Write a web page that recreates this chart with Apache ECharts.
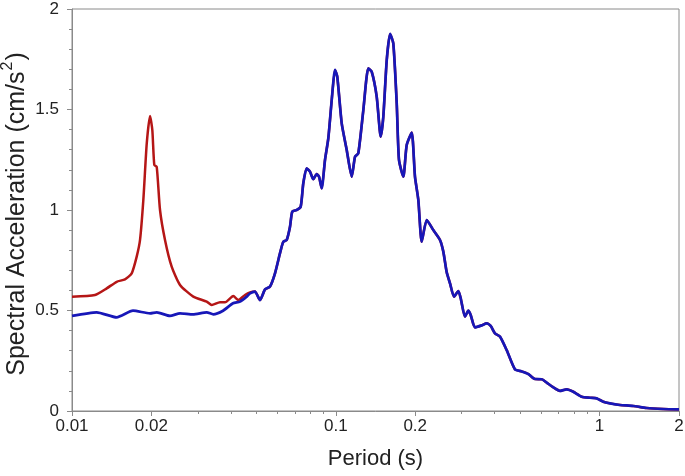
<!DOCTYPE html>
<html>
<head>
<meta charset="utf-8">
<script src="https://cdn.jsdelivr.net/npm/echarts@6/dist/echarts.min.js"></script>
<style>
html,body{margin:0;padding:0;background:#fff;}
#chart{width:685px;height:476px;}
</style>
</head>
<body>
<div id="chart"></div>
<script>
// Low-period part of the blue (filtered) spectrum
var bluePeriodsLow = [0.01, 0.0124, 0.01477, 0.01703, 0.01976, 0.02095, 0.02352, 0.02567, 0.02875, 0.03241, 0.03433, 0.03737, 0.04077, 0.04334, 0.04595, 0.04729];
var blueValuesLow  = [0.473, 0.491, 0.466, 0.499, 0.486, 0.491, 0.473, 0.486, 0.481, 0.491, 0.481, 0.499, 0.536, 0.544, 0.569, 0.585];

// Low-period part of the red (original) spectrum
var redPeriodsLow = [0.01, 0.01222, 0.01354, 0.01477, 0.01588, 0.01684, 0.01759, 0.01811, 0.01864, 0.0192, 0.01976, 0.02016, 0.02051, 0.02095, 0.02156, 0.02252, 0.02387, 0.02567, 0.02883, 0.03241, 0.03385, 0.03639, 0.03802, 0.04088, 0.0427, 0.04527, 0.04729];
var redValuesLow  = [0.569, 0.577, 0.610, 0.643, 0.655, 0.685, 0.768, 0.851, 1.05, 1.33, 1.468, 1.398, 1.224, 1.215, 1.0, 0.851, 0.718, 0.627, 0.569, 0.544, 0.527, 0.541, 0.541, 0.572, 0.552, 0.577, 0.590];

// Common part (both curves coincide)
var sharedPeriods = [0.04939, 0.0516, 0.05391, 0.05631, 0.05882, 0.06145, 0.06324, 0.06514, 0.06705, 0.0684, 0.07109, 0.07362, 0.0753, 0.07757, 0.07983, 0.08216, 0.08464, 0.08636, 0.08843, 0.09101, 0.09368, 0.0965, 0.09931, 0.1013, 0.1053, 0.11, 0.1149, 0.1183, 0.1217, 0.1272, 0.1328, 0.1368, 0.1429, 0.148, 0.1514, 0.156, 0.1606, 0.1652, 0.1702, 0.1736, 0.1803, 0.1857, 0.194, 0.1996, 0.2055, 0.2117, 0.2212, 0.2343, 0.2483, 0.2556, 0.2633, 0.271, 0.2806, 0.2914, 0.2975, 0.3089, 0.3179, 0.3246, 0.337, 0.3573, 0.3733, 0.3866, 0.4013, 0.4192, 0.4444, 0.4778, 0.5066, 0.5366, 0.569, 0.6033, 0.6302, 0.6676, 0.7078, 0.7504, 0.7948, 0.8553, 0.9196, 0.975, 1.033, 1.095, 1.195, 1.342, 1.508, 1.744, 2.0];
var sharedValues  = [0.594, 0.552, 0.605, 0.619, 0.685, 0.785, 0.842, 0.851, 0.917, 0.992, 1.0, 1.017, 1.133, 1.207, 1.191, 1.153, 1.179, 1.166, 1.108, 1.249, 1.357, 1.547, 1.697, 1.663, 1.431, 1.299, 1.166, 1.265, 1.282, 1.498, 1.705, 1.688, 1.564, 1.365, 1.464, 1.746, 1.876, 1.829, 1.531, 1.249, 1.166, 1.323, 1.385, 1.166, 1.05, 0.842, 0.95, 0.9, 0.851, 0.793, 0.69, 0.635, 0.569, 0.597, 0.561, 0.469, 0.499, 0.478, 0.416, 0.426, 0.436, 0.423, 0.386, 0.370, 0.303, 0.207, 0.197, 0.184, 0.159, 0.158, 0.141, 0.118, 0.1, 0.108, 0.096, 0.071, 0.066, 0.063, 0.046, 0.038, 0.030, 0.025, 0.015, 0.01, 0.008];

var xLabelValues = [0.01, 0.02, 0.1, 0.2, 1, 2];
var xMinorTicks = [0.03, 0.04, 0.05, 0.06, 0.07, 0.08, 0.09, 0.3, 0.4, 0.5, 0.6, 0.7, 0.8, 0.9];

function pairs(xs, ys) { return xs.map(function (x, i) { return [x, ys[i]]; }); }
var redData = pairs(redPeriodsLow, redValuesLow).concat(pairs(sharedPeriods, sharedValues));
var blueData = pairs(bluePeriodsLow, blueValuesLow).concat(pairs(sharedPeriods, sharedValues));

var FONT = '"Liberation Sans", Arial, sans-serif';
var AXIS_COLOR = '#8a8a8a';

var chart = echarts.init(document.getElementById('chart'), null, { renderer: 'canvas' });
chart.setOption({
  animation: false,
  backgroundColor: '#fff',
  grid: { left: 72, right: 6, top: 9, bottom: 65, show: true, borderColor: AXIS_COLOR, borderWidth: 1,
    containLabel: false, outerBoundsMode: 'none' },
  xAxis: [{
    type: 'log', logBase: 10, min: 0.01, max: 2,
    name: 'Period (s)', nameLocation: 'middle', nameGap: 37, nameMoveOverlap: false,
    nameTextStyle: { fontFamily: FONT, fontSize: 22, color: '#222' },
    axisLine: { show: true, lineStyle: { color: AXIS_COLOR, width: 1 } },
    axisTick: { show: true, inside: false, length: 5, lineStyle: { color: AXIS_COLOR }, customValues: xLabelValues },
    axisLabel: { fontFamily: FONT, fontSize: 17, color: '#222', margin: 7, customValues: xLabelValues,
      formatter: function (v) { return String(+v.toPrecision(3)); } },
    splitLine: { show: false }, minorTick: { show: false }
  }, {
    type: 'log', logBase: 10, min: 0.01, max: 2, position: 'bottom', gridIndex: 0,
    axisLine: { show: false },
    axisTick: { show: true, inside: false, length: 3, lineStyle: { color: AXIS_COLOR }, customValues: xMinorTicks },
    axisLabel: { show: false },
    splitLine: { show: false }
  }],
  yAxis: {
    type: 'value', min: 0, max: 2, interval: 0.5,
    name: '{t|Spectral Acceleration (cm/s}{sup|2}{t|)}', nameLocation: 'middle', nameGap: 42, nameMoveOverlap: false,
    nameTextStyle: {
      fontFamily: FONT, fontSize: 25, color: '#222', padding: [0, 8, 0, 0],
      rich: {
        t: { fontFamily: FONT, fontSize: 25, color: '#222', lineHeight: 30, verticalAlign: 'bottom' },
        sup: { fontFamily: FONT, fontSize: 16, color: '#222', lineHeight: 30, verticalAlign: 'top', padding: [0, 1, 12, 1] }
      }
    },
    axisLine: { show: true, lineStyle: { color: AXIS_COLOR, width: 1 } },
    axisTick: { show: true, inside: false, length: 5, lineStyle: { color: AXIS_COLOR } },
    minorTick: { show: true, splitNumber: 5, length: 3, lineStyle: { color: AXIS_COLOR } },
    axisLabel: { fontFamily: FONT, fontSize: 17, color: '#222', margin: 13 },
    splitLine: { show: false }
  },
  series: [{
    type: 'line', name: 'Original', data: redData, xAxisIndex: 0,
    showSymbol: false, smooth: 0.2,
    lineStyle: { color: '#b51616', width: 2.5 }
  }, {
    type: 'line', name: 'Filtered', data: blueData, xAxisIndex: 0,
    showSymbol: false, smooth: 0.2,
    lineStyle: { color: '#1717b8', width: 2.7 }
  }]
});
</script>
</body>
</html>
